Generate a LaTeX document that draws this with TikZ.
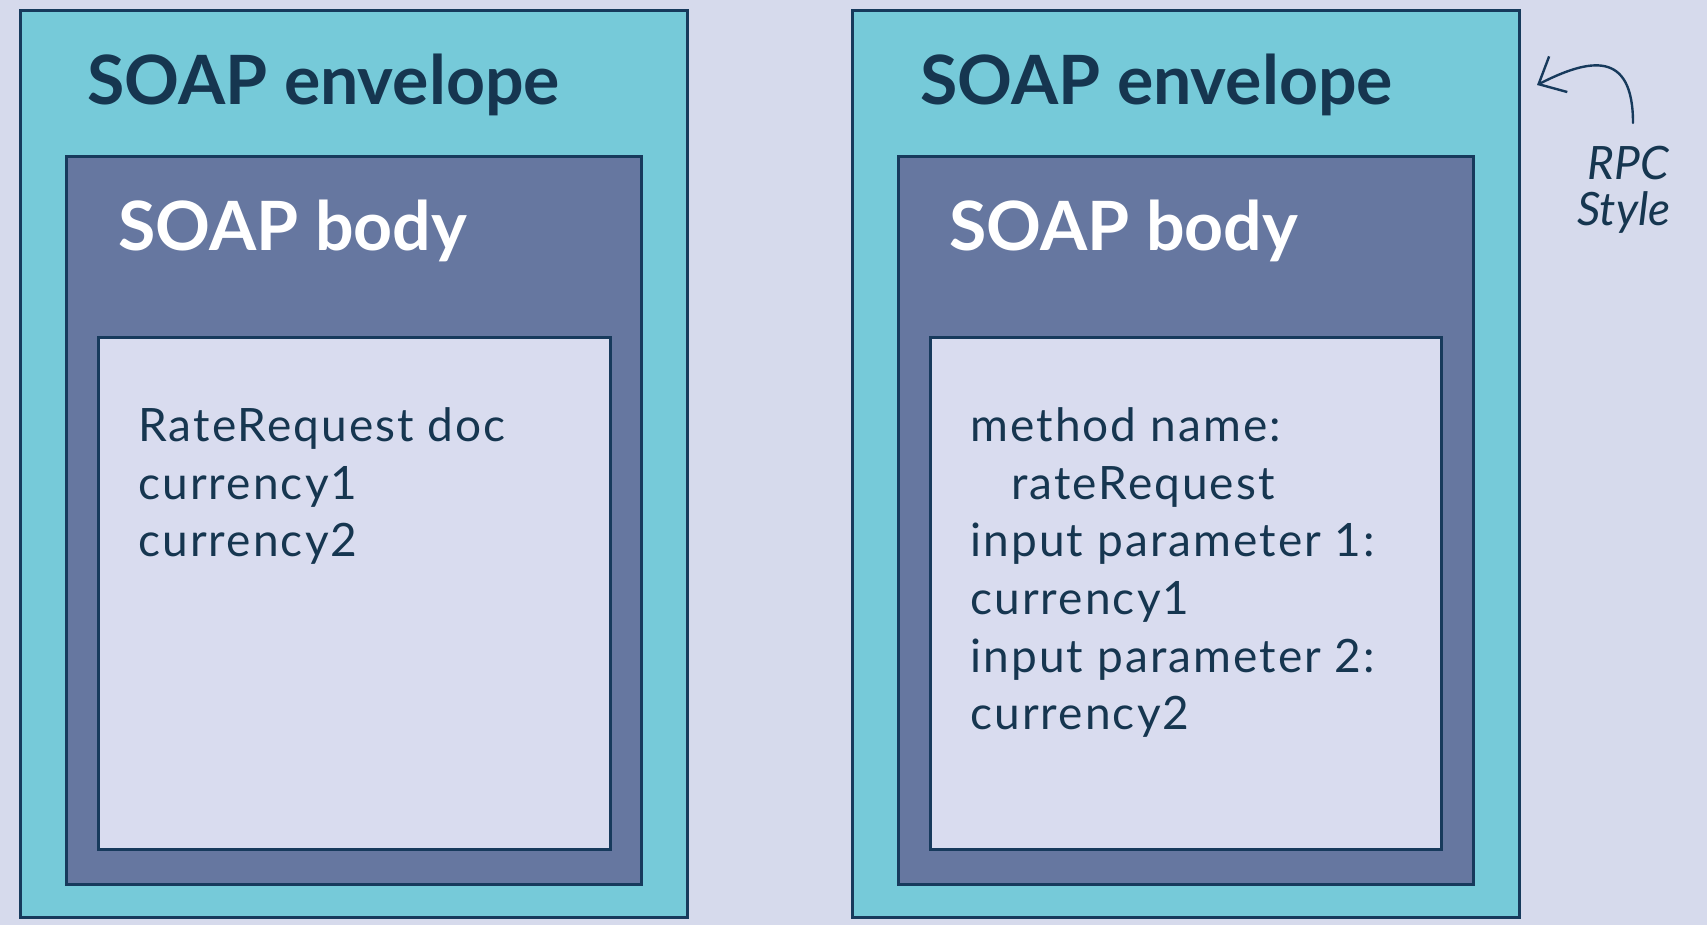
\documentclass[tikz,border=0pt]{standalone}
\usepackage{fontspec}
\setmainfont{Lato}
\newfontfamily\itemfont[LetterSpace=4.5]{Lato}
\usetikzlibrary{arrows.meta}
\definecolor{bgc}{HTML}{D6DAEC}
\definecolor{envc}{HTML}{76CAD9}
\definecolor{bodyc}{HTML}{6677A0}
\definecolor{innerc}{HTML}{D9DCEF}
\definecolor{edgec}{HTML}{173A5C}
\definecolor{txtc}{HTML}{163650}
\tikzset{
  boxbase/.style={draw=edgec, line width=1.4pt, anchor=north west, inner sep=0pt},
  envbox/.style={boxbase, fill=envc, minimum width=333.5pt, minimum height=453.5pt},
  bodybox/.style={boxbase, fill=bodyc, minimum width=287.5pt, minimum height=364pt},
  innerbox/.style={boxbase, fill=innerc, minimum width=256pt, minimum height=256pt},
  envtitle/.style={anchor=base west, inner sep=0pt, text=txtc, font=\fontsize{34}{40}\selectfont\bfseries},
  bodytitle/.style={anchor=base west, inner sep=0pt, text=white, font=\fontsize{34}{40}\selectfont\bfseries},
  itemtext/.style={anchor=base west, inner sep=0pt, text=txtc, font=\itemfont\fontsize{23}{28}\selectfont},
  notetext/.style={anchor=base, inner sep=0pt, text=txtc, font=\fontsize{23}{26}\selectfont\itshape}
}
\begin{document}
\begin{tikzpicture}[x=0.5pt,y=-0.5pt]
\fill[bgc] (0,0) rectangle (1707,925);
\useasboundingbox (0,0) rectangle (1707,925);
% left
\node[envbox] (envL) at (19,9) {};
\node[bodybox] (bodyL) at (65,155) {};
\node[innerbox] (innL) at (97,336) {};
\node[envtitle] (envLt) at (87,105) {SOAP envelope};
\node[bodytitle] (bodyLt) at (118,250) {SOAP body};
\node[itemtext] (l1) at (138,441) {RateRequest doc};
\node[itemtext] (l2) at (138,499) {currency1};
\node[itemtext] (l3) at (138,556) {currency2};
% right
\node[envbox] (envR) at (851,9) {};
\node[bodybox] (bodyR) at (897,155) {};
\node[innerbox, minimum width=255.5pt] (innR) at (929,336) {};
\node[envtitle] (envRt) at (920,105) {SOAP envelope};
\node[bodytitle] (bodyRt) at (949,250) {SOAP body};
\node[itemtext] (r1) at (970,441) {method name:};
\node[itemtext] (r2) at (1011,499) {rateRequest};
\node[itemtext] (r3) at (970,556) {input parameter 1:};
\node[itemtext] (r4) at (970,614) {currency1};
\node[itemtext] (r5) at (970,672) {input parameter 2:};
\node[itemtext] (r6) at (970,729) {currency2};
% note
\node[notetext] (rpc) at (1628,180) {RPC};
\node[notetext] (sty) at (1624,226) {Style};
\coordinate (as) at (1633,123);
\coordinate (ae) at (1537,85);
\draw[edgec, line width=1.2pt, line cap=round, -{Straight Barb[length=11pt, width=20pt, line width=1.2pt]}]
  (as) .. controls (1633,50) and (1590,58) .. (ae);
\end{tikzpicture}
\end{document}
